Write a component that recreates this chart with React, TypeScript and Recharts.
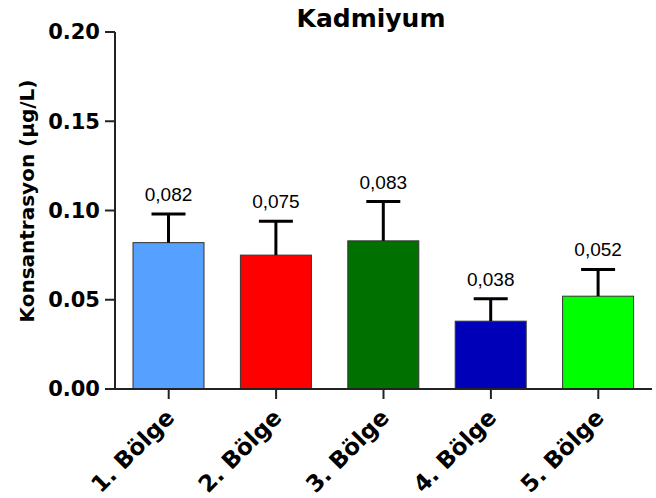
import React from 'react';
import { BarChart, Bar, XAxis, YAxis, Cell } from 'recharts';

const categories = ['1. Bölge', '2. Bölge', '3. Bölge', '4. Bölge', '5. Bölge'];
const means = [0.082, 0.075, 0.083, 0.038, 0.052];
const errors = [0.016, 0.019, 0.022, 0.0125, 0.015];
const valueLabels = ['0,082', '0,075', '0,083', '0,038', '0,052'];
const barColors = ['#56A0FF', '#FF0000', '#007000', '#0000B8', '#00FF00'];
const yTicks = [0, 0.05, 0.1, 0.15, 0.2];

const data = categories.map((c, i) => ({
  name: c,
  mean: means[i],
  err: errors[i],
  label: valueLabels[i],
}));

const BOLD = "'DejaVu Sans', sans-serif";
const REG = "'Liberation Sans', Arial, sans-serif";

const BarWithError = (props: any) => {
  const { x, y, width, height, index, payload } = props;
  const perUnit = height / payload.mean;
  const errTop = y - payload.err * perUnit;
  const cx = x + width / 2;
  return (
    <g>
      <rect x={x} y={y} width={width} height={height} fill={barColors[index]} stroke="#333" strokeWidth={1} />
      <line x1={cx} x2={cx} y1={y} y2={errTop} stroke="#000" strokeWidth={3} />
      <line x1={cx - 17} x2={cx + 17} y1={errTop} y2={errTop} stroke="#000" strokeWidth={3} />
      <text x={cx} y={errTop - 13} textAnchor="middle" fontSize={19} fontFamily={REG} fill="#000">
        {payload.label}
      </text>
    </g>
  );
};

const XTick = (props: any) => {
  const { x, y, payload } = props;
  const ax = x + 7;
  const ay = y + 18;
  return (
    <text
      x={ax}
      y={ay}
      textAnchor="end"
      transform={`rotate(-45, ${ax}, ${ay})`}
      fontSize={23}
      fontWeight="bold"
      fontFamily={BOLD}
      fill="#000"
    >
      {payload.value}
    </text>
  );
};

export default function App() {
  return (
    <div style={{ position: 'absolute', left: 0, top: 0, width: 656, height: 498, background: '#fff' }}>
      <BarChart width={656} height={498} data={data} margin={{ top: 32, right: 4, left: 0, bottom: 0 }}>
        <XAxis
          dataKey="name"
          height={109}
          tick={<XTick />}
          tickSize={10}
          axisLine={{ stroke: '#222', strokeWidth: 2 }}
          tickLine={{ stroke: '#222', strokeWidth: 2 }}
          interval={0}
        />
        <YAxis
          width={115}
          domain={[0, 0.2]}
          ticks={yTicks}
          tickFormatter={(v: number) => v.toFixed(2)}
          tickSize={10}
          tickMargin={5}
          tick={{ fontSize: 21, fontWeight: 'bold', fill: '#000', fontFamily: BOLD }}
          axisLine={{ stroke: '#222', strokeWidth: 2 }}
          tickLine={{ stroke: '#222', strokeWidth: 2 }}
        />
        <Bar dataKey="mean" barSize={71} isAnimationActive={false} shape={<BarWithError />}>
          {data.map((d, i) => (
            <Cell key={d.name} fill={barColors[i]} />
          ))}
        </Bar>
      </BarChart>
      <svg width={656} height={498} style={{ position: 'absolute', left: 0, top: 0, pointerEvents: 'none' }}>
        <text x={371} y={27} textAnchor="middle" fontSize={25} fontWeight="bold" fontFamily={BOLD} fill="#000">
          Kadmiyum
        </text>
        <text
          x={34}
          y={201}
          textAnchor="middle"
          transform="rotate(-90, 34, 201)"
          fontSize={20}
          fontWeight="bold"
          fontFamily={BOLD}
          fill="#000"
        >
          Konsantrasyon (µg/L)
        </text>
      </svg>
    </div>
  );
}
